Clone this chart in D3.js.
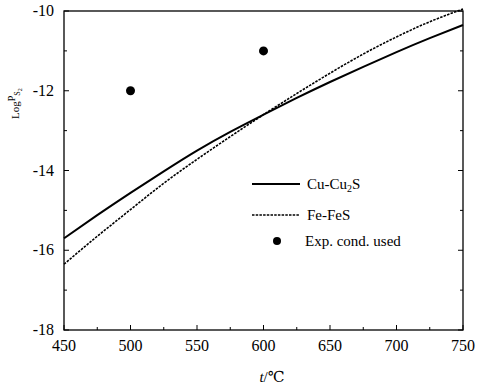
<!DOCTYPE html>
<html>
<head>
<meta charset="utf-8">
<script src="https://cdn.jsdelivr.net/npm/d3@7"></script>
<style>
  body { margin: 0; background: #fff; }
  text { font-family: "Liberation Serif", "DejaVu Serif", serif; fill: #000; }
</style>
</head>
<body>
<div id="chart"></div>
<script>
const temps = [450, 475, 500, 525, 550, 575, 600, 625, 650, 675, 700, 725, 750]
const cuCu2S = [-15.7, -15.12, -14.56, -14.02, -13.5, -13.03, -12.6, -12.18, -11.78, -11.4, -11.03, -10.68, -10.35]
const feFeS = [-16.35, -15.65, -14.98, -14.32, -13.72, -13.15, -12.6, -12.07, -11.56, -11.08, -10.65, -10.27, -9.95]
const expTemps = [500, 600]
const expLogP = [-12, -11]
const xTicks = [450, 500, 550, 600, 650, 700, 750]
const yTicks = [-18, -16, -14, -12, -10]

const width = 482
const height = 387
// plot box edges (window.top is reserved, so no "top" here)
const plotLeft = 64, plotRight = 463, plotTop = 11, plotBottom = 330

const svg = d3.select("#chart").append("svg")
    .attr("width", width)
    .attr("height", height)

const x = d3.scaleLinear().domain([450, 750]).range([plotLeft, plotRight])
const y = d3.scaleLinear().domain([-18, -10]).range([plotBottom, plotTop])

// frame
svg.append("rect")
    .attr("x", plotLeft).attr("y", plotTop)
    .attr("width", plotRight - plotLeft).attr("height", plotBottom - plotTop)
    .attr("fill", "none").attr("stroke", "#000").attr("stroke-width", 1.3)

// inward ticks, bottom
const xMinor = d3.range(450, 751, 25)
svg.append("g").selectAll("line").data(xMinor).enter().append("line")
    .attr("x1", d => x(d)).attr("x2", d => x(d))
    .attr("y1", plotBottom).attr("y2", d => plotBottom - (d % 50 == 0 ? 5 : 3))
    .attr("stroke", "#000")

// inward ticks, left and right
const yMinor = d3.range(-18, -9.5, 1)
const yt = svg.append("g")
yt.selectAll("line.l").data(yMinor).enter().append("line").attr("class", "l")
    .attr("x1", plotLeft).attr("x2", d => plotLeft + (d % 2 == 0 ? 5 : 3))
    .attr("y1", d => y(d)).attr("y2", d => y(d))
    .attr("stroke", "#000")
yt.selectAll("line.r").data(yMinor).enter().append("line").attr("class", "r")
    .attr("x1", plotRight).attr("x2", d => plotRight - (d % 2 == 0 ? 5 : 3))
    .attr("y1", d => y(d)).attr("y2", d => y(d))
    .attr("stroke", "#000")

// tick labels
svg.append("g").selectAll("text").data(xTicks).enter().append("text")
    .attr("x", d => x(d)).attr("y", 351)
    .attr("text-anchor", "middle")
    .style("font-size", "16px")
    .text(d => d)

svg.append("g").selectAll("text").data(yTicks).enter().append("text")
    .attr("x", 54).attr("y", d => y(d) + 5)
    .attr("text-anchor", "end")
    .style("font-size", "16px")
    .text(d => d)

// axis titles
const xt = svg.append("text")
    .attr("x", 272).attr("y", 382)
    .attr("text-anchor", "middle")
    .style("font-size", "15px")
xt.append("tspan").style("font-style", "italic").text("t")
xt.append("tspan").text("/℃")

const ylab = svg.append("text")
    .attr("transform", "translate(19,119) rotate(-90)")
    .attr("text-anchor", "start")
    .style("font-size", "11px")
ylab.append("tspan").text("Log")
ylab.append("tspan").attr("dy", -4).style("font-size", "10px").text("P")
ylab.append("tspan").attr("dy", 5).style("font-size", "8px").text("S")
ylab.append("tspan").attr("dy", 2).style("font-size", "6px").text("2")

// curves
const line = d3.line()
    .x((d, i) => x(temps[i]))
    .y(d => y(d))
    .curve(d3.curveNatural)

svg.append("path").datum(cuCu2S)
    .attr("d", line)
    .attr("fill", "none").attr("stroke", "#000").attr("stroke-width", 2)

svg.append("path").datum(feFeS)
    .attr("d", line)
    .attr("fill", "none").attr("stroke", "#000").attr("stroke-width", 1.6)
    .attr("stroke-dasharray", "2.5,1.2")

// experimental conditions
svg.append("g").selectAll("circle").data(expTemps).enter().append("circle")
    .attr("cx", d => x(d)).attr("cy", (d, i) => y(expLogP[i]))
    .attr("r", 4.5).attr("fill", "#000")

// legend
const lg = svg.append("g")
lg.append("line").attr("x1", 252).attr("x2", 300).attr("y1", 184).attr("y2", 184)
    .attr("stroke", "#000").attr("stroke-width", 2)
const t1 = lg.append("text").attr("x", 307).attr("y", 189).style("font-size", "15px")
t1.append("tspan").text("Cu-Cu")
t1.append("tspan").attr("dy", 3).style("font-size", "10px").text("2")
t1.append("tspan").attr("dy", -3).text("S")

lg.append("line").attr("x1", 252).attr("x2", 300).attr("y1", 215).attr("y2", 215)
    .attr("stroke", "#000").attr("stroke-width", 1.3).attr("stroke-dasharray", "2.5,1.2")
lg.append("text").attr("x", 307).attr("y", 220).style("font-size", "15px").text("Fe-FeS")

lg.append("circle").attr("cx", 277).attr("cy", 241).attr("r", 4).attr("fill", "#000")
lg.append("text").attr("x", 305).attr("y", 246).style("font-size", "15px").text("Exp. cond. used")
</script>
</body>
</html>
